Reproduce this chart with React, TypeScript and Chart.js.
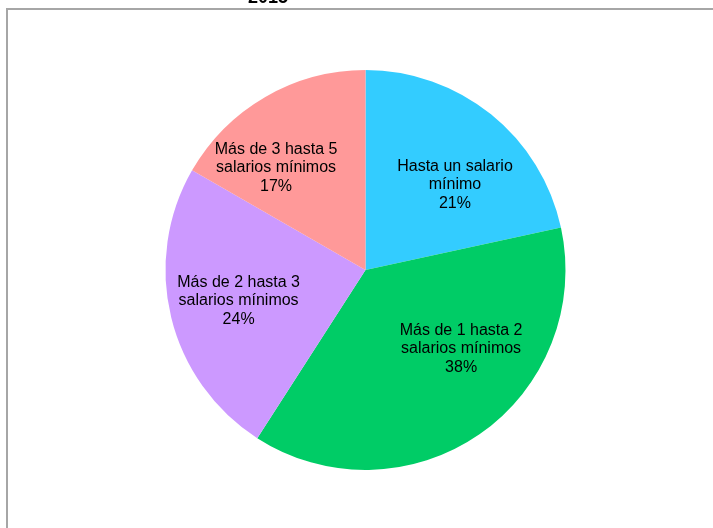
import React, { useEffect, useRef } from "react";
import { Chart, registerables } from "chart.js";

Chart.register(...registerables);

const title = "2015";
const categories: string[][] = [
  ["Hasta un salario", "mínimo"],
  ["Más de 1 hasta 2", "salarios mínimos"],
  ["Más de 2 hasta 3", "salarios mínimos"],
  ["Más de 3 hasta 5", "salarios mínimos"],
];
const values = [21.6, 37.5, 24.2, 16.7];
const percentLabels = ["21%", "38%", "24%", "17%"];
const colors = ["#33CCFF", "#00CC66", "#CC99FF", "#FF9999"];
// label placement style: angular shift (deg) and radius fraction
const labelAngleShift = [7.6, -15.7, 0, -11.2];
const labelRadiusFrac = [0.617, 0.62, 0.653, 0.678];

const framePlugin = {
  id: "frame",
  beforeDraw(chart: any) {
    const ctx = chart.ctx;
    ctx.save();
    ctx.strokeStyle = "#A6A6A6";
    ctx.lineWidth = 2;
    ctx.beginPath();
    ctx.moveTo(7, chart.height + 2);
    ctx.lineTo(7, 9);
    ctx.lineTo(chart.width + 2, 9);
    ctx.stroke();
    ctx.fillStyle = "#000";
    ctx.font = "bold 18px 'Liberation Sans', Arial, sans-serif";
    ctx.textAlign = "center";
    ctx.textBaseline = "alphabetic";
    ctx.fillText(title, 268, 3);
    ctx.restore();
  },
};

const labelPlugin = {
  id: "sliceLabels",
  afterDatasetsDraw(chart: any) {
    const ctx = chart.ctx;
    const meta = chart.getDatasetMeta(0);
    ctx.save();
    ctx.fillStyle = "#000";
    ctx.font = "16px 'Liberation Sans', Arial, sans-serif";
    ctx.textAlign = "center";
    ctx.textBaseline = "middle";
    meta.data.forEach((arc: any, i: number) => {
      const p = arc.getProps(["x", "y", "startAngle", "endAngle", "outerRadius"], true);
      const mid = (p.startAngle + p.endAngle) / 2 + (labelAngleShift[i] * Math.PI) / 180;
      const r = p.outerRadius * labelRadiusFrac[i];
      const cx = p.x + Math.cos(mid) * r;
      const cy = p.y + Math.sin(mid) * r;
      const lines = [...categories[i], percentLabels[i]];
      const lh = 18.5;
      lines.forEach((t, j) => {
        ctx.fillText(t, cx, cy + (j - (lines.length - 1) / 2) * lh);
      });
    });
    ctx.restore();
  },
};

export default function App() {
  const ref = useRef<HTMLCanvasElement>(null);
  useEffect(() => {
    document.body.style.margin = "0";
    const chart = new Chart(ref.current!, {
      type: "pie",
      data: {
        labels: categories.map((c) => c.join(" ")),
        datasets: [
          {
            data: values,
            backgroundColor: colors,
            borderWidth: 0,
          },
        ],
      },
      options: {
        animation: false,
        responsive: false,
        layout: { padding: { left: 165, right: 147, top: 70, bottom: 58 } },
        plugins: {
          legend: { display: false },
          tooltip: { enabled: false },
          title: { display: false },
        },
      },
      plugins: [framePlugin, labelPlugin],
    });
    return () => chart.destroy();
  }, []);
  return <canvas ref={ref} width={713} height={528} style={{ display: "block" }} />;
}
